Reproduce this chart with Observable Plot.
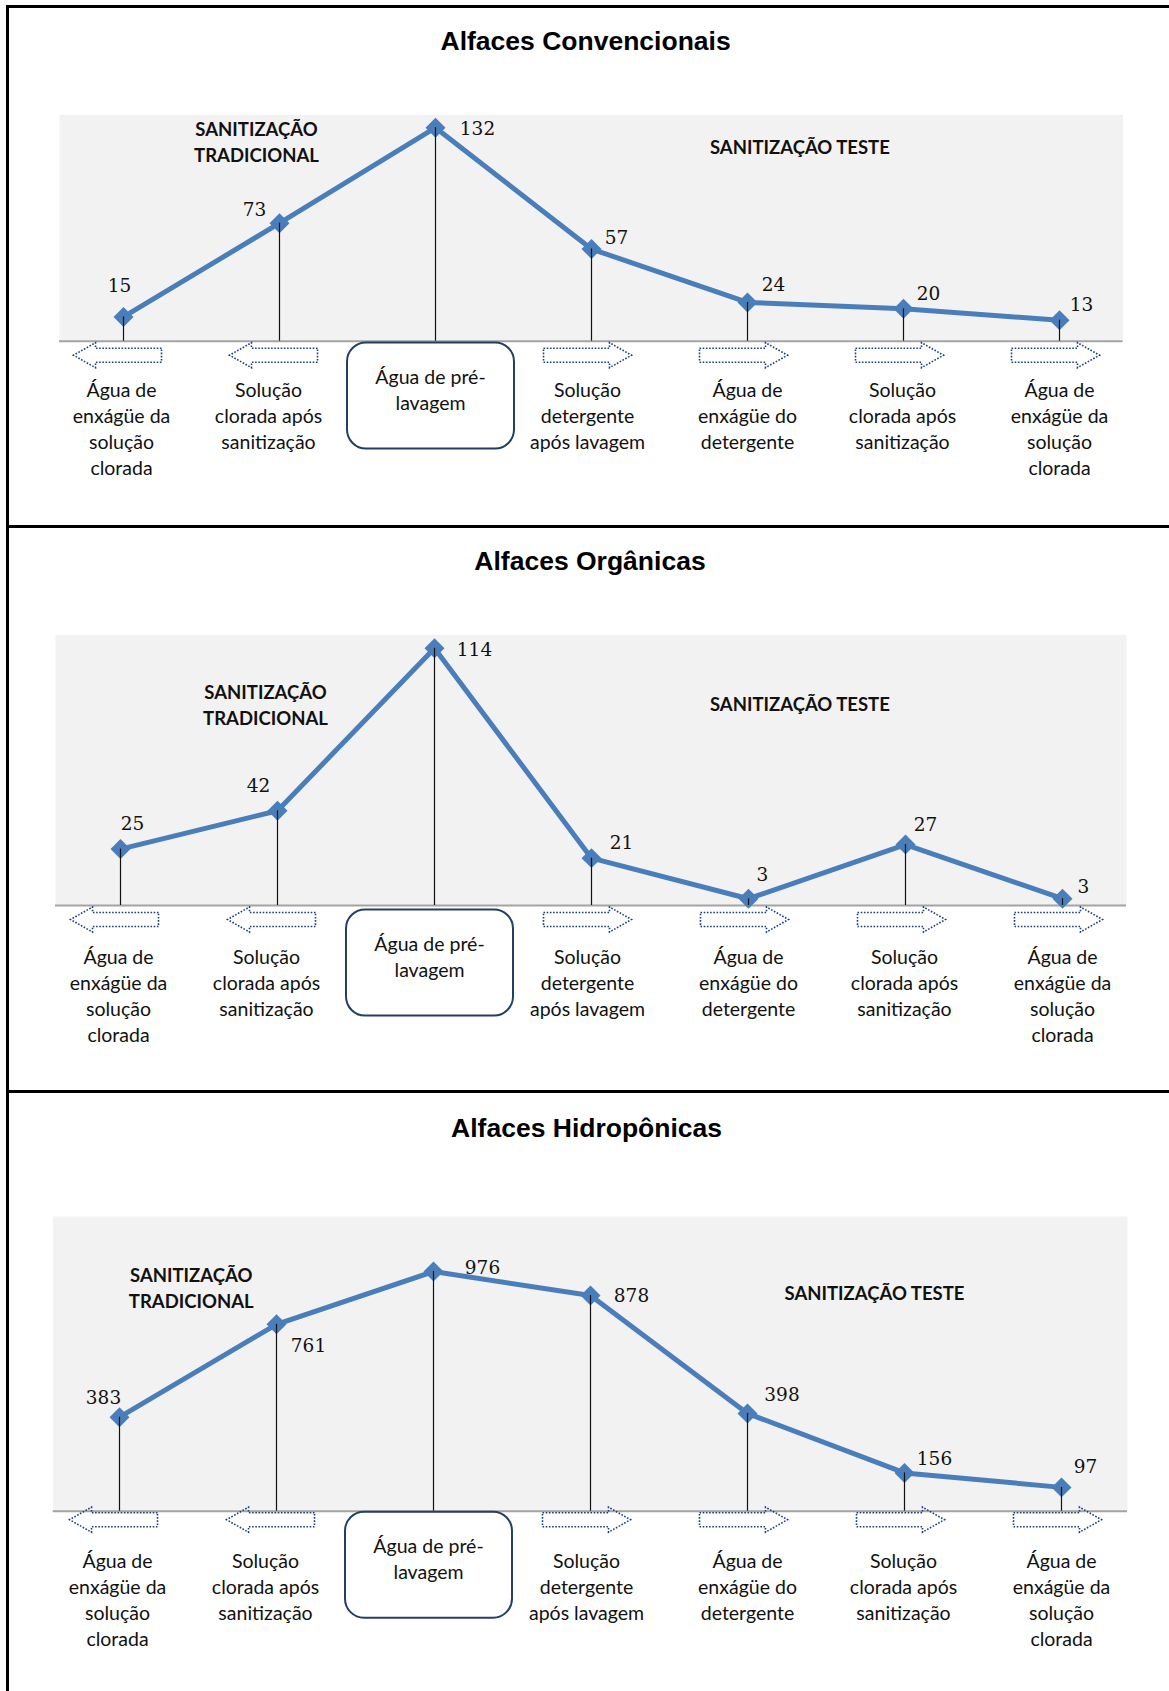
<!DOCTYPE html>
<html lang="pt">
<head>
<meta charset="utf-8">
<script src="https://cdn.jsdelivr.net/npm/d3@7"></script>
<script src="https://cdn.jsdelivr.net/npm/@observablehq/plot@0.6"></script>
<style>
  html, body { margin: 0; padding: 0; background: #fff; }
  #quadro { position: relative; width: 1169px; height: 1691px; overflow: hidden; background: #fff; }
  .painel { position: absolute; left: 0; }
  .linha { position: absolute; background: #000; }
  .titulo {
    position: absolute; transform: translate(-50%, -50%); white-space: nowrap; color: #000;
    font: bold 26.5px "Liberation Sans", Arial, sans-serif;
  }
</style>
</head>
<body>
<div id="quadro"></div>
<script>
// Etapas do processo (rótulos do eixo, com quebras de linha)
const etapas = [
  "Água de\nenxágüe da\nsolução\nclorada",
  "Solução\nclorada após\nsanitização",
  "Água de pré-\nlavagem",
  "Solução\ndetergente\napós lavagem",
  "Água de\nenxágüe do\ndetergente",
  "Solução\nclorada após\nsanitização",
  "Água de\nenxágüe da\nsolução\nclorada"
];
// Sentido da seta sob cada etapa
const sentidos = ["esquerda", "esquerda", "centro", "direita", "direita", "direita", "direita"];

// Contagens por etapa
const convencionais = [15, 73, 132, 57, 24, 20, 13];
const organicas = [25, 42, 114, 21, 3, 27, 3];
const hidroponicas = [383, 761, 976, 878, 398, 156, 97];

const titulos = ["Alfaces Convencionais", "Alfaces Orgânicas", "Alfaces Hidropônicas"];
const grupos = ["SANITIZAÇÃO\nTRADICIONAL", "SANITIZAÇÃO TESTE"];
const limitesY = [140, 120, 1200];

// Geometria e posição de cada painel na página
const layouts = [
  { top: 8, height: 517, mt: 106.3, mb: 184.3, ml: 59, mr: 46.5, pad: 0.395,
    tituloX: 585.6, tituloY: 41, setaDy: 14, rotuloDy: 37.5, caixaDy: 54.3, caixaTxtDy: 24,
    trad: [197, 25.7], teste: [740.4, 33.7],
    offsets: [[-4, -31], [-25, -12.7], [42, 1.3], [25, -11], [26, -17], [25, -15], [22, -15]] },
  { top: 528, height: 562, mt: 106.3, mb: 185, ml: 55, mr: 43, pad: 0.39,
    tituloX: 590, tituloY: 561, setaDy: 14, rotuloDy: 40, caixaDy: 57, caixaTxtDy: 27,
    trad: [210, 69], teste: [744.4, 70.7],
    offsets: [[12, -25], [-19, -25], [40, 1.6], [30, -15], [14, -24], [20, -20], [21, -12]] },
  { top: 1093, height: 598, mt: 123, mb: 180.3, ml: 52.7, mr: 42, pad: 0.4,
    tituloX: 586.6, tituloY: 1128, setaDy: 8.5, rotuloDy: 38.5, caixaDy: 53.5, caixaTxtDy: 23,
    trad: [138, 70], teste: [821.3, 78],
    offsets: [[-16, -19], [32, 22], [49, -3], [41, 1], [34.5, -18], [30, -14], [24, -20]] }
];
const rotuloDx = [-2, -11, 0, -4, 0, -1, 0];

const azul = "#4a7ebb";
const marinho = "#243f60";

// Seta pontilhada (apontando para a direita ou para a esquerda)
function seta(dir) {
  return {
    draw(ctx) {
      const s = dir, L = 44, c = 7, hc = 12.5, base = 22;
      ctx.moveTo(-L * s, -c);
      ctx.lineTo(base * s, -c);
      ctx.lineTo(base * s, -hc);
      ctx.lineTo(L * s, 0);
      ctx.lineTo(base * s, hc);
      ctx.lineTo(base * s, c);
      ctx.lineTo(-L * s, c);
      ctx.closePath();
    }
  };
}
// Caixa de cantos arredondados em torno da etapa inicial
const caixa = {
  draw(ctx) {
    const w = 83.5, h = 53, r = 19;
    ctx.moveTo(-w + r, -h);
    ctx.lineTo(w - r, -h);
    ctx.arcTo(w, -h, w, -h + r, r);
    ctx.lineTo(w, h - r);
    ctx.arcTo(w, h, w - r, h, r);
    ctx.lineTo(-w + r, h);
    ctx.arcTo(-w, h, -w, h - r, r);
    ctx.lineTo(-w, -h + r);
    ctx.arcTo(-w, -h, -w + r, -h, r);
    ctx.closePath();
  }
};

function painel(valores, k) {
  const L = layouts[k];
  const linhas = valores.map((valor, i) => ({ i, valor, rotulo: etapas[i], sentido: sentidos[i] }));
  const zero = () => 0;
  const fonteNum = { fontFamily: "DejaVu Serif", fontSize: 18.5, fill: "#111" };

  const marcas = [
    Plot.frame({ fill: "#f2f2f2", stroke: "none" }),
    Plot.ruleY([0], { stroke: "#a3a3a3", strokeWidth: 2 }),
    Plot.line(linhas, { x: "i", y: "valor", stroke: azul, strokeWidth: 5, strokeLinejoin: "round" }),
    Plot.dot(linhas, { x: "i", y: "valor", symbol: "diamond2", r: 9, fill: azul, stroke: "none" }),
    Plot.ruleX(linhas, { x: "i", y1: 0, y2: "valor", stroke: "#111", strokeWidth: 1.2 }),
    Plot.dot(linhas.filter(d => d.sentido === "esquerda"), {
      x: "i", y: zero, dx: -6, dy: L.setaDy, symbol: seta(-1),
      fill: "none", stroke: "#1f3f7a", strokeWidth: 1.6, strokeDasharray: "1.6,1.6"
    }),
    Plot.dot(linhas.filter(d => d.sentido === "direita"), {
      x: "i", y: zero, dx: -4, dy: L.setaDy, symbol: seta(1),
      fill: "none", stroke: "#1f3f7a", strokeWidth: 1.6, strokeDasharray: "1.6,1.6"
    }),
    Plot.dot(linhas.filter(d => d.sentido === "centro"), {
      x: "i", y: zero, dx: -5, dy: L.caixaDy, symbol: caixa,
      fill: "none", stroke: marinho, strokeWidth: 2
    }),
    Plot.text(linhas.filter(d => d.sentido === "centro"), {
      x: "i", y: zero, text: "rotulo", dx: -5, dy: L.caixaTxtDy,
      lineAnchor: "top", lineHeight: 26 / 19.5, fontSize: 19.5, fill: "#111"
    }),
    ...linhas.filter(d => d.sentido !== "centro").map(d => Plot.text([d], {
      x: "i", y: zero, text: "rotulo", dx: rotuloDx[d.i], dy: L.rotuloDy,
      lineAnchor: "top", lineHeight: 26 / 19.5, fontSize: 19.5, fill: "#111"
    })),
    ...linhas.map(d => Plot.text([d], {
      x: "i", y: "valor", text: r => String(r.valor),
      dx: L.offsets[d.i][0], dy: L.offsets[d.i][1], ...fonteNum
    })),
    Plot.text([grupos[0]], {
      text: t => t, frameAnchor: "top-left", textAnchor: "middle", lineAnchor: "middle",
      dx: L.trad[0], dy: L.trad[1], fontWeight: "bold", fontSize: 18.5, lineHeight: 26 / 18.5, fill: "#111"
    }),
    Plot.text([grupos[1]], {
      text: t => t, frameAnchor: "top-left", textAnchor: "middle", lineAnchor: "middle",
      dx: L.teste[0], dy: L.teste[1], fontWeight: "bold", fontSize: 18.5, fill: "#111"
    })
  ];

  const svg = Plot.plot({
    width: 1169,
    height: L.height,
    marginTop: L.mt,
    marginBottom: L.mb,
    marginLeft: L.ml,
    marginRight: L.mr,
    x: { type: "point", domain: d3.range(etapas.length), padding: L.pad, axis: null },
    y: { domain: [0, limitesY[k]], axis: null },
    style: { fontFamily: "Lato, 'Open Sans', sans-serif", fontSize: "19.5px", background: "transparent", overflow: "visible" },
    marks: marcas
  });
  svg.classList.add("painel");
  svg.style.top = L.top + "px";
  svg.style.maxWidth = "none";
  return svg;
}

const quadro = document.getElementById("quadro");
[convencionais, organicas, hidroponicas].forEach((valores, k) => {
  quadro.appendChild(painel(valores, k));
  const t = document.createElement("div");
  t.className = "titulo";
  t.textContent = titulos[k];
  t.style.left = layouts[k].tituloX + "px";
  t.style.top = layouts[k].tituloY + "px";
  quadro.appendChild(t);
});

// Molduras: linha superior, separadores e borda esquerda
function linha(left, top, width, height) {
  const d = document.createElement("div");
  d.className = "linha";
  Object.assign(d.style, { left: left + "px", top: top + "px", width: width + "px", height: height + "px" });
  quadro.appendChild(d);
}
linha(6, 5, 1163, 2.5);
linha(6, 525, 1163, 2.5);
linha(6, 1090, 1163, 2.5);
linha(6, 5, 2.5, 1686);
</script>
</body>
</html>
